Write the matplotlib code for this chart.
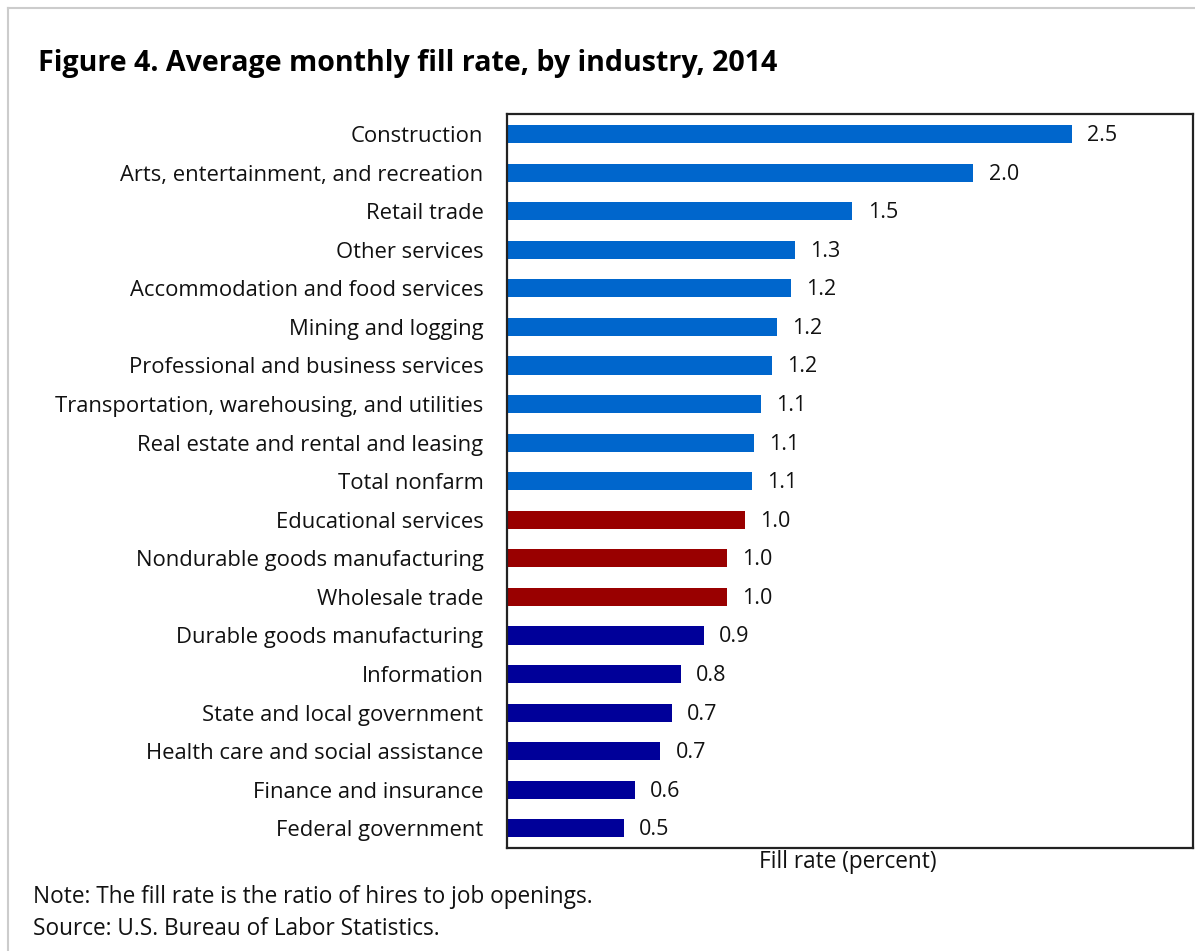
import numpy as np
import matplotlib
matplotlib.use("Agg")
from matplotlib import pyplot as plt
from matplotlib.lines import Line2D

# data (fill rate, percent)
industries = [
	"Construction",
	"Arts, entertainment, and recreation",
	"Retail trade",
	"Other services",
	"Accommodation and food services",
	"Mining and logging",
	"Professional and business services",
	"Transportation, warehousing, and utilities",
	"Real estate and rental and leasing",
	"Total nonfarm",
	"Educational services",
	"Nondurable goods manufacturing",
	"Wholesale trade",
	"Durable goods manufacturing",
	"Information",
	"State and local government",
	"Health care and social assistance",
	"Finance and insurance",
	"Federal government",
]
fill_rate = [2.47, 2.04, 1.51, 1.26, 1.24, 1.18, 1.16, 1.11, 1.08, 1.07,
			 1.04, 0.96, 0.96, 0.86, 0.76, 0.72, 0.67, 0.56, 0.51]
group = ["high"] * 10 + ["mid"] * 3 + ["low"] * 6

title = "Figure 4. Average monthly fill rate, by industry, 2014"
xlabel = "Fill rate (percent)"
note = "Note: The fill rate is the ratio of hires to job openings."
source = "Source: U.S. Bureau of Labor Statistics."

colors = {"high": "#0066CC", "mid": "#990000", "low": "#000099"}

plt.rcParams["font.family"] = ["Open Sans", "DejaVu Sans"]

W, H = 1195, 951
fig = plt.figure(figsize=(W / 100, H / 100), dpi=100)

# axes box in pixels: left 507, right 1193, top 114, bottom 848
ax = fig.add_axes([507 / W, 1 - 848 / H, (1193 - 507) / W, (848 - 114) / H])

y = np.arange(len(industries))
ax.barh(y, fill_rate, height=0.47, color=[colors[g] for g in group])

for yi, v in zip(y, fill_rate):
	ax.annotate(f"{v:.1f}", (v, yi), xytext=(11, -1), textcoords="offset points",
				ha="left", va="center", fontsize=15.5, color="#111111")

ax.set_xlim(0, 3)
ax.set_ylim(len(industries) - 1 + 0.51, -0.52)
ax.set_yticks(y)
ax.set_yticklabels(industries, fontsize=15.8, color="#111111")
ax.tick_params(axis="y", length=0, pad=17)
ax.set_xticks([])
for s in ax.spines.values():
	s.set_linewidth(1.6)
	s.set_color("#222222")

fig.text(848 / W, 1 - 862 / H, xlabel, ha="center", va="center", fontsize=16.3, color="#111111")
fig.text(38 / W, 1 - 64 / H, title, ha="left", va="center", fontsize=20.6, fontweight="bold",
		 color="black")
fig.text(33 / W, 1 - 897 / H, note, ha="left", va="center", fontsize=16.3, color="#111111")
fig.text(33 / W, 1 - 929 / H, source, ha="left", va="center", fontsize=16.3, color="#111111")

# light grey frame along top and left edges
fig.add_artist(Line2D([8 / W, 8 / W], [0, 1 - 8 / H], color="#cccccc", lw=1.5))
fig.add_artist(Line2D([8 / W, 1], [1 - 8 / H, 1 - 8 / H], color="#cccccc", lw=1.5))

fig.savefig("out.png", dpi=100)
